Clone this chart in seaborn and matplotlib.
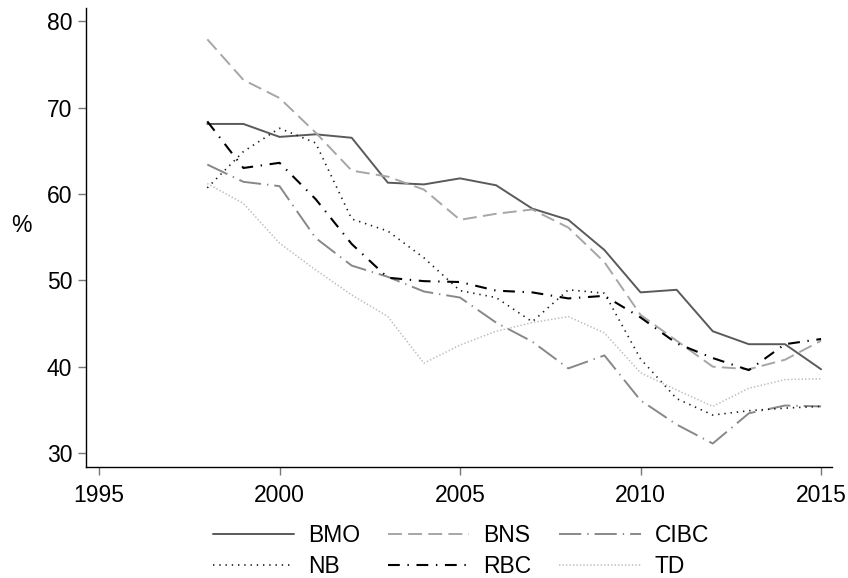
import matplotlib
matplotlib.use("Agg")
import matplotlib.pyplot as plt
from matplotlib.lines import Line2D
import seaborn as sns
import pandas as pd

years = list(range(1998, 2016))

bmo = [68.1, 68.1, 66.6, 66.9, 66.5, 61.3, 61.1, 61.8, 61.0, 58.3, 57.0, 53.5, 48.6, 48.9, 44.1, 42.6, 42.6, 39.7]
bns = [77.9, 73.2, 71.1, 67.1, 62.7, 62.0, 60.5, 57.0, 57.7, 58.2, 56.1, 52.1, 46.0, 43.0, 40.0, 39.7, 40.8, 43.0]
cibc = [63.4, 61.4, 60.9, 54.9, 51.7, 50.4, 48.7, 48.0, 45.1, 42.9, 39.8, 41.3, 36.1, 33.3, 31.1, 34.6, 35.5, 35.4]
nb = [60.7, 64.9, 67.6, 65.9, 57.1, 55.7, 52.6, 48.8, 48.0, 45.2, 48.9, 48.5, 40.9, 36.3, 34.4, 34.9, 35.2, 35.4]
rbc = [68.4, 63.0, 63.6, 59.4, 54.2, 50.3, 49.9, 49.8, 48.8, 48.6, 47.9, 48.2, 45.7, 42.7, 41.0, 39.6, 42.6, 43.2]
td = [61.2, 58.9, 54.3, 51.2, 48.3, 45.8, 40.4, 42.5, 44.1, 45.1, 45.8, 43.9, 39.3, 37.3, 35.4, 37.5, 38.5, 38.6]

banks = ["BMO", "BNS", "CIBC", "NB", "RBC", "TD"]
series = [bmo, bns, cibc, nb, rbc, td]

colors = {"BMO": "#5a5a5a", "BNS": "#a6a6a6", "CIBC": "#888888",
          "NB": "#1a1a1a", "RBC": "#000000", "TD": "#bcbcbc"}
dashes = {"BMO": "", "BNS": (10, 4.5), "CIBC": (16, 4.3, 1, 4.3),
          "NB": (1, 3.5), "RBC": (8.5, 5.5, 1, 5.5), "TD": (1, 1.5)}
widths = {"BMO": 1.4, "BNS": 1.4, "CIBC": 1.4, "NB": 1.2, "RBC": 1.5, "TD": 1.1}

rows = []
for b, vals in zip(banks, series):
    for y, v in zip(years, vals):
        rows.append({"year": y, "value": v, "bank": b})
df = pd.DataFrame(rows)

sns.set_style("ticks")
plt.rcParams["font.family"] = ["Liberation Sans", "DejaVu Sans"]
plt.rcParams["lines.scale_dashes"] = False
plt.rcParams["text.color"] = "black"

fs = 16.5

fig = plt.figure(figsize=(8.48, 5.78), dpi=100)
ax = fig.add_axes([0.1014, 0.192, 0.8796, 0.7938])

sns.lineplot(data=df, x="year", y="value", hue="bank", style="bank",
             palette=colors, dashes=dashes, hue_order=banks, style_order=banks,
             legend=False, ax=ax)
for line, b in zip(ax.get_lines(), banks):
    line.set_linewidth(widths[b])

ax.set_xlim(1994.64, 2015.3)
ax.set_ylim(28.38, 81.5)
ax.set_xticks([1995, 2000, 2005, 2010, 2015])
ax.set_yticks([30, 40, 50, 60, 70, 80])
ax.tick_params(axis="both", labelsize=fs, length=6, width=1, color="#777777",
               labelcolor="black")
ax.tick_params(axis="x", pad=6)
ax.tick_params(axis="y", pad=4)
sns.despine(ax=ax)
for s in ["left", "bottom"]:
    ax.spines[s].set_color("black")
    ax.spines[s].set_linewidth(1)

ax.set_xlabel("")
ax.set_ylabel("%", rotation=0, fontsize=fs, va="center", ha="center", color="black")
ax.yaxis.set_label_coords(-0.087, 0.526)

handles = []
for b in banks:
    d = dashes[b]
    h = Line2D([0], [0], color=colors[b], lw=widths[b])
    if d:
        h.set_dashes(d)
    handles.append(h)
# row-major order for 3 columns
order = [0, 3, 1, 4, 2, 5]
fig.legend([handles[i] for i in order], [banks[i] for i in order],
           loc="center", bbox_to_anchor=(0.5436, 0.0466), ncol=3,
           frameon=False, fontsize=fs, handlelength=3.54, handletextpad=0.61,
           columnspacing=1.22, labelspacing=0.36)

fig.savefig("out.png", dpi=100)
